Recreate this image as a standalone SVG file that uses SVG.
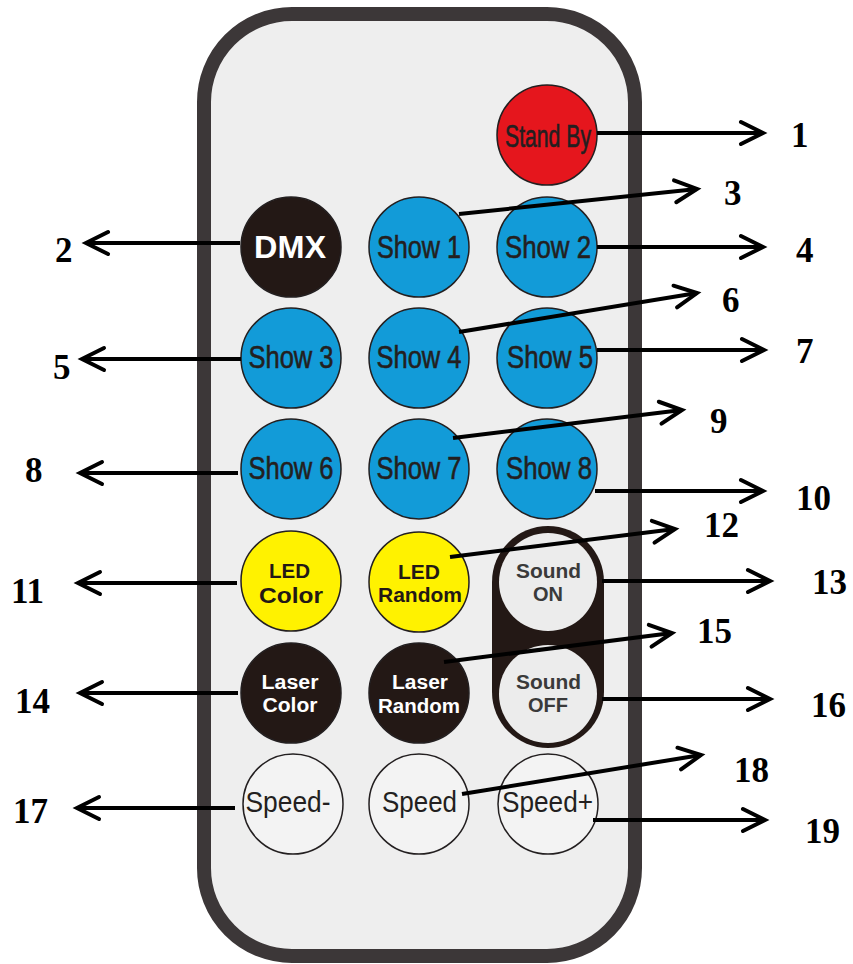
<svg xmlns="http://www.w3.org/2000/svg" width="853" height="964" viewBox="0 0 853 964">
<defs>
<style>
.btn{stroke:#231f20;stroke-width:1.5}
.blue{fill:#129bd8}
.red{fill:#e5161d}
.yel{fill:#fff200}
.blk{fill:#231815}
.wht{fill:#f3f3f3}
.nar{font-family:"Liberation Sans",Arial,sans-serif;font-size:31px;fill:#231f20;stroke:#231f20;stroke-width:0.6;text-anchor:middle}
.spd{font-family:"Liberation Sans",Arial,sans-serif;font-size:30px;fill:#231f20;text-anchor:middle}
.bd{font-family:"Liberation Sans",Arial,sans-serif;font-weight:bold;text-anchor:middle}
.num{font-family:"Liberation Serif","Times New Roman",serif;font-weight:bold;font-size:35px;fill:#000}
.con line{stroke:#000;stroke-width:4;marker-end:url(#ah)}
</style>
<marker id="ah" markerUnits="userSpaceOnUse" viewBox="-26 -15 30 30" markerWidth="30" markerHeight="30" refX="0" refY="0" orient="auto" overflow="visible">
<path d="M-22,-11 L0,0 L-22,11" fill="none" stroke="#000" stroke-width="4" stroke-linecap="round" stroke-linejoin="miter"/>
</marker>
</defs>
<rect width="853" height="964" fill="#fff"/>
<g id="remote">
<rect x="204" y="14" width="431" height="942" rx="88" ry="88" fill="#eeeeee" stroke="#3c3738" stroke-width="14"/>
</g>
<g id="btn-standby"><circle class="btn red" cx="547" cy="135" r="50"/><text class="nar" x="548" y="147" textLength="86" lengthAdjust="spacingAndGlyphs">Stand By</text></g>
<g id="btn-dmx"><circle class="btn blk" cx="291" cy="247" r="50"/><text class="bd" x="290" y="258" font-size="32" fill="#fff" textLength="72" lengthAdjust="spacingAndGlyphs">DMX</text></g>
<g id="btn-show1"><circle class="btn blue" cx="419" cy="247" r="50"/><text class="nar" x="419" y="258" textLength="84" lengthAdjust="spacingAndGlyphs">Show 1</text></g>
<g id="btn-show2"><circle class="btn blue" cx="547" cy="247" r="50"/><text class="nar" x="548" y="258" textLength="86" lengthAdjust="spacingAndGlyphs">Show 2</text></g>
<g id="btn-show3"><circle class="btn blue" cx="291" cy="358" r="50"/><text class="nar" x="291" y="368" textLength="85" lengthAdjust="spacingAndGlyphs">Show 3</text></g>
<g id="btn-show4"><circle class="btn blue" cx="419" cy="358" r="50"/><text class="nar" x="419" y="368" textLength="85" lengthAdjust="spacingAndGlyphs">Show 4</text></g>
<g id="btn-show5"><circle class="btn blue" cx="547" cy="358" r="50"/><text class="nar" x="550" y="368" textLength="86" lengthAdjust="spacingAndGlyphs">Show 5</text></g>
<g id="btn-show6"><circle class="btn blue" cx="291" cy="469" r="50"/><text class="nar" x="291" y="479" textLength="85" lengthAdjust="spacingAndGlyphs">Show 6</text></g>
<g id="btn-show7"><circle class="btn blue" cx="419" cy="469" r="50"/><text class="nar" x="419" y="479" textLength="85" lengthAdjust="spacingAndGlyphs">Show 7</text></g>
<g id="btn-show8"><circle class="btn blue" cx="547" cy="469" r="50"/><text class="nar" x="549" y="479" textLength="86" lengthAdjust="spacingAndGlyphs">Show 8</text></g>
<g id="btn-ledcolor"><circle class="btn yel" cx="291" cy="581" r="50"/><text class="bd" x="289.5" y="578" font-size="20" fill="#231815" textLength="41" lengthAdjust="spacingAndGlyphs">LED</text><text class="bd" x="291" y="603" font-size="22" fill="#231815" textLength="64" lengthAdjust="spacingAndGlyphs">Color</text></g>
<g id="btn-ledrandom"><circle class="btn yel" cx="419" cy="582" r="50"/><text class="bd" x="419" y="579" font-size="20" fill="#231815" textLength="42" lengthAdjust="spacingAndGlyphs">LED</text><text class="bd" x="420" y="602" font-size="20" fill="#231815" textLength="84" lengthAdjust="spacingAndGlyphs">Random</text></g>
<g id="btn-lasercolor"><circle class="btn blk" cx="291" cy="693" r="50"/><text class="bd" x="290" y="689" font-size="20" fill="#fff" textLength="57" lengthAdjust="spacingAndGlyphs">Laser</text><text class="bd" x="290" y="712" font-size="20" fill="#fff" textLength="55" lengthAdjust="spacingAndGlyphs">Color</text></g>
<g id="btn-laserrandom"><circle class="btn blk" cx="419" cy="693" r="50"/><text class="bd" x="420" y="689" font-size="20" fill="#fff" textLength="56" lengthAdjust="spacingAndGlyphs">Laser</text><text class="bd" x="419" y="713" font-size="20" fill="#fff" textLength="82" lengthAdjust="spacingAndGlyphs">Random</text></g>
<g id="sound-pill"><rect x="492" y="526" width="112" height="222" rx="56" ry="56" fill="#231815"/></g>
<g id="btn-soundon"><circle cx="548" cy="582" r="49" fill="#ececec"/><text class="bd" x="548.5" y="578" font-size="20" fill="#3a3a3a" textLength="65" lengthAdjust="spacingAndGlyphs">Sound</text><text class="bd" x="548" y="601" font-size="20" fill="#3a3a3a" textLength="30" lengthAdjust="spacingAndGlyphs">ON</text></g>
<g id="btn-soundoff"><circle cx="548" cy="694" r="49" fill="#ececec"/><text class="bd" x="548.5" y="689" font-size="20" fill="#3a3a3a" textLength="65" lengthAdjust="spacingAndGlyphs">Sound</text><text class="bd" x="548" y="712" font-size="20" fill="#3a3a3a" textLength="40" lengthAdjust="spacingAndGlyphs">OFF</text></g>
<g id="btn-speedminus"><circle class="btn wht" cx="293" cy="804" r="50"/><text class="spd" x="288" y="812" textLength="85" lengthAdjust="spacingAndGlyphs">Speed-</text></g>
<g id="btn-speed"><circle class="btn wht" cx="419" cy="804" r="50"/><text class="spd" x="419.5" y="812" textLength="75" lengthAdjust="spacingAndGlyphs">Speed</text></g>
<g id="btn-speedplus"><circle class="btn wht" cx="548" cy="804" r="50"/><text class="spd" x="547.5" y="812" textLength="91" lengthAdjust="spacingAndGlyphs">Speed+</text></g>
<g id="connectors" class="con">
<line x1="597" y1="133" x2="763" y2="133"/>
<line x1="240" y1="243" x2="86" y2="243"/>
<line x1="459" y1="214" x2="697" y2="189"/>
<line x1="597" y1="247" x2="763" y2="247"/>
<line x1="241" y1="359" x2="82" y2="359"/>
<line x1="459" y1="332" x2="697" y2="293"/>
<line x1="597" y1="350" x2="764" y2="350"/>
<line x1="238" y1="473" x2="80" y2="473"/>
<line x1="453" y1="438" x2="682" y2="410"/>
<line x1="595" y1="491" x2="763" y2="491"/>
<line x1="237" y1="583" x2="78" y2="583"/>
<line x1="450" y1="557" x2="675" y2="529"/>
<line x1="602" y1="581" x2="770" y2="581"/>
<line x1="238" y1="693" x2="80" y2="693"/>
<line x1="444" y1="662" x2="672" y2="633"/>
<line x1="602" y1="699" x2="770" y2="699"/>
<line x1="235" y1="808" x2="77" y2="808"/>
<line x1="462" y1="794" x2="701" y2="755"/>
<line x1="593" y1="820" x2="765" y2="820"/>
</g>
<g id="labels">
<text class="num" x="791" y="147">1</text>
<text class="num" x="55" y="262">2</text>
<text class="num" x="724" y="205">3</text>
<text class="num" x="796" y="262">4</text>
<text class="num" x="53" y="379">5</text>
<text class="num" x="722" y="312">6</text>
<text class="num" x="796" y="363">7</text>
<text class="num" x="25" y="482">8</text>
<text class="num" x="710" y="433">9</text>
<text class="num" x="796" y="510">10</text>
<text class="num" x="11" y="603">11</text>
<text class="num" x="704" y="537">12</text>
<text class="num" x="812" y="594">13</text>
<text class="num" x="15" y="713">14</text>
<text class="num" x="697" y="643">15</text>
<text class="num" x="811" y="717">16</text>
<text class="num" x="13" y="823">17</text>
<text class="num" x="734" y="782">18</text>
<text class="num" x="805" y="843">19</text>
</g>
</svg>
